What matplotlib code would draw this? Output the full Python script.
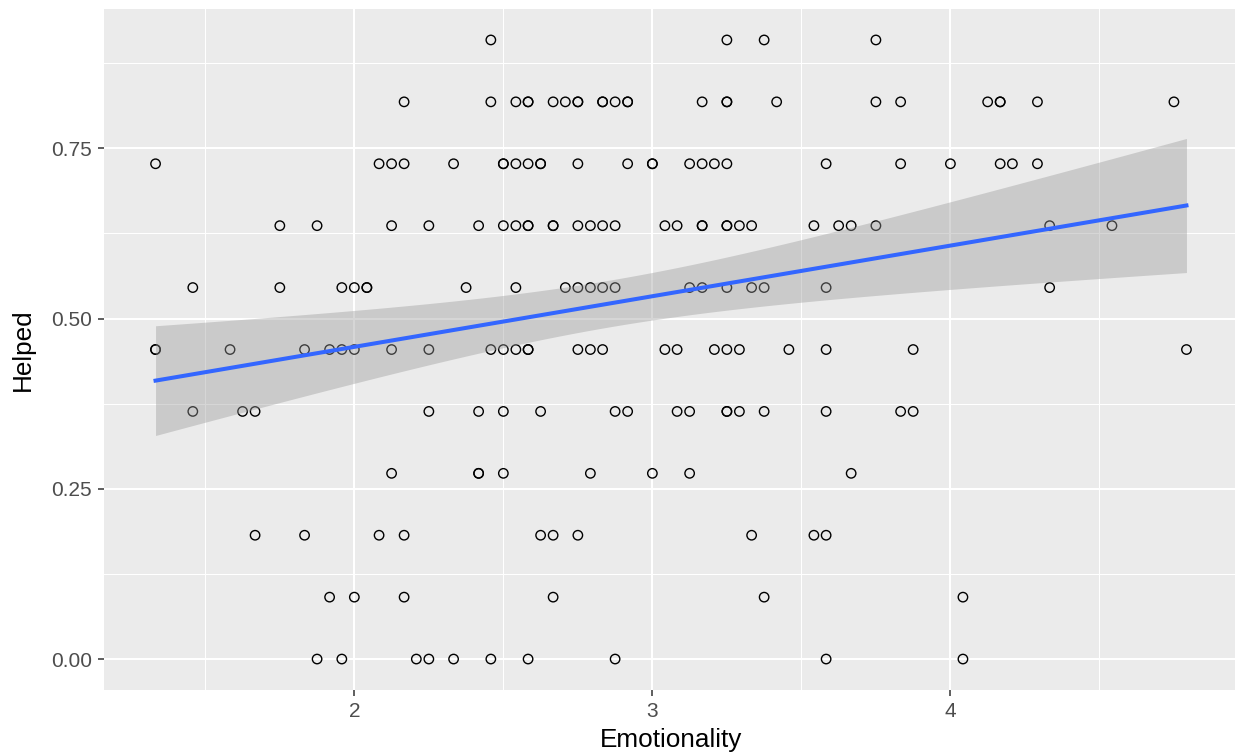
import numpy as np
import matplotlib
matplotlib.use("Agg")
import matplotlib.pyplot as plt
from matplotlib.ticker import FixedLocator

plt.rcParams['font.family'] = ['Liberation Sans', 'DejaVu Sans']

# Emotionality scores observed at each "Helped" level (levels are k/11)
helped_levels = [0.0, 0.0909, 0.1818, 0.2727, 0.3636, 0.4545,
                 0.5455, 0.6364, 0.7273, 0.8182, 0.9091]
emo_000 = [1.875, 1.958, 2.208, 2.250, 2.333, 2.458, 2.583, 2.875, 3.583, 4.042]
emo_009 = [1.917, 2.000, 2.167, 2.667, 3.375, 4.042]
emo_018 = [1.667, 1.833, 2.083, 2.167, 2.625, 2.667, 2.750, 3.333, 3.542, 3.583]
emo_027 = [2.125, 2.417, 2.417, 2.500, 2.792, 3.000, 3.125, 3.667]
emo_036 = [1.458, 1.625, 1.667, 2.250, 2.417, 2.500, 2.625, 2.875, 2.917,
           3.083, 3.125, 3.250, 3.250, 3.292, 3.375, 3.583, 3.833, 3.875]
emo_045 = [1.333, 1.333, 1.583, 1.833, 1.917, 1.958, 2.000, 2.125, 2.250,
           2.458, 2.500, 2.542, 2.583, 2.583, 2.750, 2.792, 2.833, 3.042,
           3.083, 3.208, 3.250, 3.292, 3.458, 3.583, 3.875, 4.792]
emo_055 = [1.458, 1.750, 1.958, 2.000, 2.042, 2.042, 2.375, 2.542, 2.708,
           2.750, 2.792, 2.833, 2.875, 3.125, 3.167, 3.250, 3.333, 3.375,
           3.583, 4.333]
emo_064 = [1.750, 1.875, 2.125, 2.250, 2.417, 2.500, 2.542, 2.583, 2.583,
           2.667, 2.667, 2.750, 2.792, 2.833, 2.875, 3.042, 3.083, 3.167,
           3.167, 3.250, 3.250, 3.292, 3.333, 3.542, 3.625, 3.667, 3.750,
           4.333, 4.542]
emo_073 = [1.333, 2.083, 2.125, 2.167, 2.333, 2.500, 2.500, 2.542, 2.583,
           2.625, 2.625, 2.750, 2.917, 3.000, 3.000, 3.125, 3.167, 3.208,
           3.250, 3.583, 3.833, 4.000, 4.167, 4.208, 4.292]
emo_082 = [2.167, 2.458, 2.542, 2.583, 2.583, 2.667, 2.708, 2.750, 2.750,
           2.833, 2.833, 2.875, 2.917, 2.917, 3.167, 3.250, 3.250, 3.417,
           3.750, 3.833, 4.125, 4.167, 4.167, 4.292, 4.750]
emo_091 = [2.458, 3.250, 3.375, 3.750]

groups = [emo_000, emo_009, emo_018, emo_027, emo_036, emo_045,
          emo_055, emo_064, emo_073, emo_082, emo_091]
x = np.concatenate([np.array(g) for g in groups])
y = np.concatenate([np.full(len(g), lvl) for g, lvl in zip(groups, helped_levels)])

# linear fit with 95% confidence band (like geom_smooth(method="lm"))
n = len(x)
slope, intercept = np.polyfit(x, y, 1)
resid = y - (intercept + slope * x)
s = np.sqrt(np.sum(resid ** 2) / (n - 2))
sxx = np.sum((x - x.mean()) ** 2)
xs = np.linspace(x.min(), x.max(), 80)
fit = intercept + slope * xs
se = s * np.sqrt(1 / n + (xs - x.mean()) ** 2 / sxx)
t_crit = 1.973

fig = plt.figure(figsize=(12.35, 7.53), dpi=100)
ax = fig.add_axes([104 / 1235, 63 / 753, 1134 / 1235, 681 / 753])
ax.set_facecolor('#EBEBEB')

ax.scatter(x, y, s=46, facecolors='none', edgecolors='black', linewidths=1.0, zorder=3)
ax.fill_between(xs, fit - t_crit * se, fit + t_crit * se, color='#999999',
                alpha=0.4, linewidth=0, zorder=4)
ax.plot(xs, fit, color='#3366FF', linewidth=2.9, zorder=5)

ax.margins(x=0.05, y=0.05)

ax.xaxis.set_major_locator(FixedLocator([2, 3, 4]))
ax.xaxis.set_minor_locator(FixedLocator([1.5, 2.5, 3.5, 4.5]))
ax.yaxis.set_major_locator(FixedLocator([0, 0.25, 0.5, 0.75]))
ax.yaxis.set_minor_locator(FixedLocator([0.125, 0.375, 0.625, 0.875]))
ax.set_yticklabels(['0.00', '0.25', '0.50', '0.75'])
ax.set_xticklabels(['2', '3', '4'])

ax.grid(which='major', color='white', linewidth=1.5)
ax.grid(which='minor', color='white', linewidth=0.75)
ax.set_axisbelow(True)
for sp in ax.spines.values():
    sp.set_visible(False)

ax.tick_params(which='major', length=4, width=1.1, color='#333333',
               labelsize=15, labelcolor='#4D4D4D', pad=4.5)
ax.tick_params(which='minor', length=0)

ax.set_xlabel('Emotionality', fontsize=18.8, color='black', labelpad=5.5)
ax.set_ylabel('Helped', fontsize=18.8, color='black', labelpad=11.5)

fig.savefig('out.png', dpi=100)
